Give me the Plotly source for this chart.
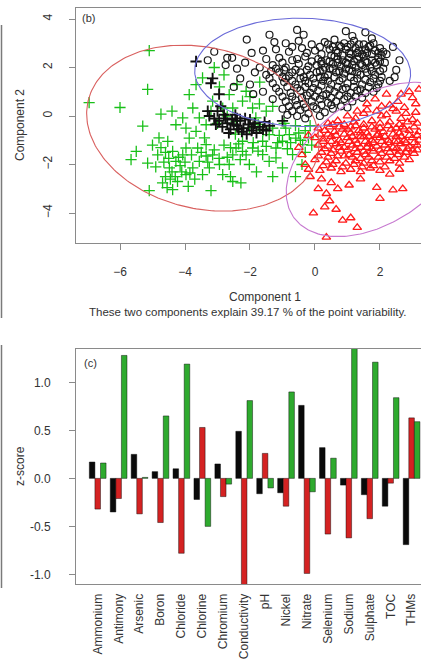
import numpy as np
import plotly.graph_objects as go

W, H = 421, 670

# ---------------- Panel (b): PCA scores ----------------
GREEN_PLUS = [
    (-5.1, 2.7), (-6.95, 0.55), (-6.0, 0.35), (-5.15, 1.1), (-5.3, -0.42), (-4.74, 0.08), (-4.4, 0.2),
    (-5.5, -1.46), (-5.66, -1.8), (-5.15, -1.94), (-5.1, -3.08), (-4.84, -1.6), (-4.74, -1.3), (-4.53, -1.05),
    (-4.38, -1.46), (-4.28, -1.87), (-4.07, -1.6), (-3.97, -1.32), (-4.48, -2.14), (-4.69, -2.76), (-4.38, -3.04),
    (-4.23, -2.7), (-3.97, -2.42), (-3.76, -2.14), (-3.56, -1.87), (-3.61, -1.32), (-3.35, -1.18), (-3.15, -1.6),
    (-2.94, -2.0), (-2.84, -2.42), (-2.64, -2.0), (-2.53, -1.6), (-2.43, -1.32), (-2.23, -1.04), (-2.12, -1.6),
    (-2.02, -2.0), (-2.28, -2.76), (-2.53, -2.7), (-3.2, -3.08), (-3.46, -2.42), (-3.25, -2.14),
    (-3.87, 0.88), (-3.66, 1.29), (-3.46, 1.57), (-3.76, 0.33), (-3.56, -0.08), (-4.07, -0.08), (-4.28, -0.36),
    (-3.97, -0.5), (-3.87, -0.91), (-3.66, -0.63), (-3.35, -0.36), (-3.15, 0.61), (-2.94, 1.2), (-2.84, 0.33),
    (-2.64, 0.88), (-2.53, 0.33), (-2.23, 0.61), (-2.12, 1.02), (-1.92, 0.33), (-1.71, 0.5), (-2.43, -0.22),
    (-1.82, -0.08), (-2.02, -0.5), (-1.61, -1.04), (-1.41, -0.77), (-1.2, -1.32), (-1.0, -1.04), (-0.79, -0.77),
    (-0.59, -0.91), (-1.2, -1.73), (-1.41, -1.87), (-1.0, -2.14), (-0.69, -1.59), (-0.38, -1.18), (-1.61, -1.59),
    (-1.92, -1.32), (-2.23, -1.46), (-4.6, -1.5), (-4.2, -1.7), (-4.0, -1.9), (-4.4, -2.3), (-4.6, -2.5),
    (-4.3, -2.5), (-3.8, -1.6), (-3.5, -1.5), (-3.3, -1.9), (-3.1, -1.4), (-2.8, -1.2), (-2.7, -1.7),
    (-2.3, -1.8), (-2.6, -1.3), (-1.9, -1.1), (-1.6, -0.6), (-1.3, -0.5), (-1.1, -0.8), (-0.9, -0.5),
    (-0.6, -0.4), (-0.5, -0.7), (-0.3, -0.6), (-0.2, -0.9), (-1.5, 0.2), (-1.3, 0.4), (-2.0, 0.8),
    (-2.7, 0.0), (-3.0, -0.3), (-3.2, 0.2), (-4.8, -0.9), (-5.0, -1.2), (-4.9, -2.1), (-3.9, -2.9),
    (-2.6, -2.5), (-1.8, -2.3), (-1.3, -2.5), (-0.4, -2.0), (-0.6, -2.5), (-0.3, -1.5), (-0.1, -1.2),
    (-1.7, 1.4), (-2.4, 1.3), (-3.1, 2.0), (-2.8, 1.7), (-4.5, -1.75), (-4.15, -2.05), (-3.7, -2.6),
    (-4.55, -2.95), (-3.4, -0.9), (-2.45, -0.75), (-1.75, -0.35), (-0.85, -1.35), (-0.45, -1.0),
    (-4.65, -1.9), (-4.45, -2.6), (-4.1, -2.3), (-3.85, -2.35), (-3.35, -1.65), (-2.95, -1.75), (-2.35, -1.15),
    (-1.75, -1.45), (-1.15, -1.1), (-0.75, -1.1), (-1.5, -1.25), (-0.95, -0.3), (-0.15, -0.4),
]
BLACK_PLUS = [
    (-3.25, 0.0), (-3.1, -0.1), (-2.95, -0.2), (-2.8, 0.05), (-2.7, -0.3), (-2.55, -0.15), (-2.4, -0.4),
    (-2.3, -0.2), (-2.2, -0.5), (-2.05, -0.35), (-1.95, -0.6), (-1.85, -0.3), (-1.7, -0.45), (-1.55, -0.25),
    (-2.6, -0.55), (-3.0, 0.2), (-2.45, 0.05), (-1.4, -0.4), (-2.15, -0.1), (-2.85, -0.45), (-3.3, 0.2),
    (-3.15, 1.55), (-3.2, 1.35), (-2.95, 0.9), (-3.66, 2.25), (-2.9, 0.4), (-1.0, -0.2), (-2.25, -0.65),
    (-1.8, -0.7), (-2.5, -0.35), (-2.0, -0.15), (-2.35, -0.55), (-1.6, -0.55), (-2.75, -0.1),
    (-3.05, -0.35), (-2.65, -0.7), (-2.1, -0.75), (-1.9, -0.45), (-2.4, -0.1), (-1.5, -0.6),
]
BLACK_CIRCLE = [
    (-3.3, 2.3), (-3.1, 2.65), (-2.75, 2.1), (-2.55, 2.4), (-2.4, 1.95), (-2.3, 1.55), (-2.15, 2.2),
    (-2.1, 3.15), (-1.95, 2.6), (-1.85, 1.8), (-1.4, 3.35), (-1.25, 3.05), (-0.55, 3.55), (-0.35, 3.35),
    (0.95, 3.5), (1.15, 3.3), (1.55, 3.45), (1.75, 3.2), (2.4, 2.85), (2.5, 1.9), (2.3, 1.45), (2.6, 2.3),
    (2.2, 2.55), (2.45, 1.6),
    (-0.9, 3.0), (-0.5, 3.1), (-0.1, 2.95), (0.3, 3.05), (0.6, 3.15), (0.9, 3.0), (1.2, 3.1), (1.5, 2.95),
    (1.8, 3.0), (2.0, 2.8),
    (-1.6, 2.7), (-1.2, 2.75), (-0.8, 2.65), (-0.4, 2.8), (0.0, 2.7), (0.2, 2.55), (0.45, 2.75), (0.7, 2.6),
    (0.95, 2.75), (1.1, 2.55), (1.35, 2.7), (1.6, 2.6), (1.85, 2.7), (2.05, 2.5),
    (-1.5, 2.35), (-1.1, 2.4), (-0.7, 2.3), (-0.3, 2.45), (0.1, 2.35), (0.35, 2.3), (0.6, 2.45), (0.85, 2.3),
    (1.05, 2.4), (1.3, 2.35), (1.5, 2.45), (1.75, 2.3), (1.95, 2.4), (2.15, 2.2),
    (-1.7, 2.0), (-1.3, 2.1), (-0.9, 2.0), (-0.5, 2.15), (-0.2, 2.05), (0.05, 2.1), (0.3, 2.0), (0.55, 2.15),
    (0.8, 2.05), (1.0, 2.15), (1.25, 2.0), (1.45, 2.1), (1.7, 2.0), (1.9, 2.1), (2.1, 1.95),
    (-1.5, 1.7), (-1.1, 1.8), (-0.8, 1.65), (-0.45, 1.8), (-0.15, 1.7), (0.15, 1.85), (0.4, 1.7), (0.65, 1.8),
    (0.9, 1.75), (1.15, 1.85), (1.4, 1.7), (1.6, 1.8), (1.85, 1.7), (2.05, 1.6),
    (-1.3, 1.35), (-0.95, 1.4), (-0.6, 1.3), (-0.3, 1.45), (0.0, 1.35), (0.25, 1.45), (0.5, 1.3), (0.75, 1.45),
    (1.0, 1.35), (1.2, 1.45), (1.45, 1.3), (1.7, 1.4), (1.95, 1.3),
    (-1.1, 1.0), (-0.75, 0.95), (-0.45, 1.05), (-0.15, 0.95), (0.1, 1.05), (0.35, 0.9), (0.6, 1.0), (0.85, 1.1),
    (1.1, 0.95), (1.3, 1.05), (1.55, 0.95), (1.8, 1.0),
    (-0.9, 0.6), (-0.6, 0.65), (-0.35, 0.5), (-0.1, 0.6), (0.15, 0.7), (0.4, 0.55), (0.65, 0.6), (0.9, 0.7),
    (1.15, 0.6), (-0.7, 0.2), (-0.45, 0.25), (-0.2, 0.1), (0.05, 0.3), (0.3, 0.15), (0.55, 0.3),
    (-2.0, 1.3), (-1.6, 1.0), (-1.3, 0.7), (-1.0, 0.3), (-1.9, 0.9), (-2.5, 1.2), (-2.7, 2.4),
    (0.75, 2.9), (1.0, 2.85), (1.25, 2.8), (1.45, 2.55), (0.85, 2.5), (1.2, 2.25), (0.5, 2.5), (0.2, 2.25),
    (1.6, 2.2), (1.75, 2.55), (-0.9, 1.55), (-0.6, 1.9), (-0.35, 1.6), (-1.2, 1.95), (-0.05, 1.55), (0.3, 1.6),
    (1.35, 2.95), (1.65, 2.85), (0.55, 2.85), (1.05, 2.6), (0.7, 2.2), (1.4, 2.15), (0.95, 1.95), (0.45, 1.95),
    (-0.7, 2.85), (-0.25, 2.6), (0.15, 2.85), (0.4, 2.95), (0.65, 2.7), (0.8, 2.85), (1.1, 2.95), (1.3, 2.6),
    (1.55, 2.75), (1.7, 2.9), (1.95, 2.6), (2.1, 2.65),
    (-1.0, 2.2), (-0.55, 2.35), (-0.1, 2.25), (0.2, 2.15), (0.45, 2.25), (0.7, 2.35), (0.95, 2.2), (1.15, 2.1),
    (1.35, 2.45), (1.55, 2.25), (1.85, 2.2), (2.0, 2.25),
    (-1.35, 1.85), (-0.95, 1.9), (-0.7, 1.8), (-0.25, 1.9), (0.05, 1.8), (0.25, 1.9), (0.55, 1.95), (0.75, 1.85),
    (1.05, 1.9), (1.3, 1.8), (1.55, 1.95), (1.75, 1.85), (2.0, 1.85),
    (-1.4, 1.55), (-1.0, 1.6), (-0.7, 1.45), (-0.45, 1.55), (-0.2, 1.35), (0.15, 1.6), (0.4, 1.45), (0.6, 1.6),
    (0.85, 1.55), (1.1, 1.6), (1.3, 1.55), (1.55, 1.5), (1.8, 1.55), (2.0, 1.45),
    (-1.2, 1.15), (-0.85, 1.2), (-0.55, 1.15), (-0.3, 1.2), (-0.05, 1.15), (0.2, 1.25), (0.45, 1.1), (0.7, 1.2),
    (0.95, 1.15), (1.2, 1.2), (1.4, 1.1), (1.65, 1.2), (1.9, 1.15),
    (-1.0, 0.8), (-0.7, 0.8), (-0.4, 0.75), (-0.25, 0.85), (0.0, 0.8), (0.25, 0.85), (0.5, 0.75), (0.75, 0.85),
    (1.0, 0.8), (1.25, 0.8), (1.45, 0.75),
    (-0.8, 0.4), (-0.55, 0.45), (-0.3, 0.35), (-0.05, 0.4), (0.2, 0.45), (0.5, 0.45), (0.8, 0.4), (1.0, 0.35),
    (-0.55, 0.0), (-0.3, -0.1), (0.15, 0.0), (-0.85, 0.05),
]
RED_TRIANGLE = [
    (1.6, 0.5), (1.85, 0.7), (2.2, 0.9), (2.65, 0.9), (2.9, 1.0), (2.3, 0.45), (2.55, 0.6), (3.1, 0.5),
    (1.3, 0.2), (1.0, 0.0), (0.7, -0.2), (0.4, -0.3), (0.1, -0.5), (-0.2, -0.8), (3.2, 1.1),
    (1.5, 0.1), (1.9, 0.2), (2.2, 0.05), (2.5, 0.2), (2.8, 0.1), (3.1, 0.15),
    (0.9, -0.35), (1.2, -0.25), (1.5, -0.35), (1.75, -0.2), (2.0, -0.3), (2.3, -0.25), (2.6, -0.35),
    (2.85, -0.25), (3.15, -0.3),
    (0.3, -0.6), (0.6, -0.65), (0.85, -0.55), (1.1, -0.7), (1.35, -0.6), (1.6, -0.7), (1.85, -0.55),
    (2.1, -0.65), (2.35, -0.55), (2.6, -0.7), (2.9, -0.6), (3.2, -0.65),
    (0.0, -0.9), (0.25, -0.95), (0.5, -0.85), (0.75, -1.0), (1.0, -0.9), (1.25, -1.0), (1.5, -0.85),
    (1.75, -1.0), (2.0, -0.9), (2.25, -1.0), (2.5, -0.85), (2.75, -1.0), (3.0, -0.9), (3.2, -1.0),
    (0.1, -1.2), (0.4, -1.25), (0.65, -1.15), (0.9, -1.3), (1.15, -1.2), (1.4, -1.3), (1.65, -1.15),
    (1.9, -1.25), (2.15, -1.2), (2.4, -1.3), (2.65, -1.15), (2.9, -1.25), (3.15, -1.2),
    (0.2, -1.5), (0.5, -1.55), (0.8, -1.45), (1.05, -1.6), (1.3, -1.5), (1.55, -1.6), (1.8, -1.45),
    (2.05, -1.55), (2.3, -1.5), (2.55, -1.6), (2.8, -1.5), (3.05, -1.55),
    (0.0, -1.8), (0.35, -1.9), (0.65, -1.85), (0.95, -1.95), (1.25, -1.85), (1.5, -1.95), (1.75, -1.85),
    (2.0, -1.9), (2.3, -1.85), (2.6, -1.95), (2.9, -1.8),
    (-0.2, -2.2), (0.15, -2.25), (0.5, -2.15), (0.8, -2.3), (1.1, -2.2), (1.4, -2.3), (1.7, -2.15),
    (2.0, -2.25), (2.3, -2.4), (2.6, -2.2),
    (-0.15, -2.5), (0.2, -2.6), (0.5, -2.75), (0.1, -3.0), (0.35, -3.2), (0.7, -3.0), (1.05, -2.85),
    (1.4, -2.6), (1.9, -2.95), (2.0, -3.4), (2.4, -3.05), (2.7, -3.0), (0.45, -3.5), (0.65, -3.85),
    (0.85, -4.3), (1.1, -4.2), (1.3, -4.6), (0.35, -5.0), (-0.05, -4.0), (0.3, -3.75), (-0.4, -1.6),
    (-0.3, -2.0), (-0.5, -1.3),
    (0.55, -0.35), (1.1, -0.45), (1.4, -0.85), (1.95, -0.75), (2.45, -1.05), (2.7, -0.45), (3.0, -1.4),
    (2.2, -1.7), (1.6, -1.3), (0.9, -1.65), (1.2, -2.0), (2.5, -1.35),
    (0.45, -0.45), (0.75, -0.45), (1.0, -0.55), (1.25, -0.4), (1.5, -0.5), (1.75, -0.45), (2.0, -0.5),
    (2.25, -0.4), (2.5, -0.5), (2.75, -0.55), (3.05, -0.45),
    (0.15, -0.75), (0.4, -0.75), (0.65, -0.8), (0.9, -0.75), (1.15, -0.85), (1.4, -0.7), (1.65, -0.85),
    (1.9, -0.8), (2.15, -0.85), (2.4, -0.75), (2.65, -0.85), (2.9, -0.8), (3.15, -0.8),
    (0.25, -1.05), (0.5, -1.05), (0.8, -1.1), (1.05, -1.05), (1.3, -1.15), (1.55, -1.05), (1.8, -1.1),
    (2.05, -1.05), (2.3, -1.1), (2.55, -1.05), (2.8, -1.1), (3.05, -1.1),
    (0.3, -1.35), (0.55, -1.4), (0.75, -1.3), (1.0, -1.4), (1.25, -1.35), (1.5, -1.45), (1.75, -1.35),
    (2.0, -1.4), (2.25, -1.35), (2.6, -1.45), (2.85, -1.35), (3.15, -1.4),
    (0.1, -1.65), (0.4, -1.7), (0.7, -1.65), (1.15, -1.7), (1.4, -1.75), (1.65, -1.7), (1.95, -1.7),
    (2.45, -1.75), (2.75, -1.7),
    (0.25, -2.05), (0.55, -2.0), (0.85, -2.1), (1.45, -2.1), (1.8, -2.05), (2.15, -2.1),
    (1.6, 0.25), (2.05, 0.4), (2.4, 0.3), (2.75, 0.35), (3.0, 0.75), (1.25, -0.1), (2.05, 0.0), (2.65, -0.1),
    (3.0, -0.15),
]

# Spanning ellipses: centre and two conjugate semi-axis vectors (data units)
ELL_CX = [-3.45, -0.38, 1.90]
ELL_CY = [-0.50, 1.80, -1.79]
ELL_UX = [3.53, 3.32, 2.60]
ELL_UY = [-1.13, -0.15, 2.30]
ELL_VX = [-0.575, -0.12, 1.00]
ELL_VY = [-3.23, -2.23, -2.20]
ELL_COLORS = ["#d9605f", "#6a6ad8", "#c77ad0"]

# ---------------- Panel (c): z-scores ----------------
CATEGORIES = ["Ammonium", "Antimony", "Arsenic", "Boron", "Chloride", "Chlorine", "Chromium",
              "Conductivity", "pH", "Nickel", "Nitrate", "Selenium", "Sodium", "Sulphate", "TOC", "THMs"]
Z_BLACK = [0.17, -0.35, 0.25, 0.07, 0.10, -0.22, 0.15, 0.49, -0.16, -0.15, 0.76, 0.32, -0.07, -0.17, -0.29, -0.69]
Z_RED = [-0.32, -0.21, -0.37, -0.46, -0.78, 0.53, -0.19, -1.15, 0.26, -0.29, -0.99, -0.58, -0.62, -0.42, -0.05, 0.63]
Z_GREEN = [0.16, 1.28, 0.01, 0.65, 1.19, -0.50, -0.06, 0.81, -0.10, 0.90, -0.14, 0.21, 1.40, 1.21, 0.84, 0.59]

fig = go.Figure()

def unzip(pts):
    return [p[0] for p in pts], [p[1] for p in pts]

gx, gy = unzip(GREEN_PLUS)
fig.add_trace(go.Scatter(x=gx, y=gy, mode="markers", showlegend=False,
                         marker=dict(symbol="cross-thin-open", size=8, color="#19c019",
                                     line=dict(color="#19c019", width=1.3))))
cxs, cys = unzip(BLACK_CIRCLE)
fig.add_trace(go.Scatter(x=cxs, y=cys, mode="markers", showlegend=False,
                         marker=dict(symbol="circle-open", size=7, color="#1a1a1a",
                                     line=dict(color="#1a1a1a", width=1.2))))
bx, by = unzip(BLACK_PLUS)
fig.add_trace(go.Scatter(x=bx, y=by, mode="markers", showlegend=False,
                         marker=dict(symbol="cross-thin-open", size=8, color="#111111",
                                     line=dict(color="#111111", width=1.9))))
rx, ry = unzip(RED_TRIANGLE)
fig.add_trace(go.Scatter(x=rx, y=ry, mode="markers", showlegend=False,
                         marker=dict(symbol="triangle-up-open", size=7.5, color="#ff1a1a",
                                     line=dict(color="#ff1a1a", width=1.3))))

t = np.linspace(0, 2 * np.pi, 241)
for cx, cy, ux, uy, vx, vy, col in zip(ELL_CX, ELL_CY, ELL_UX, ELL_UY, ELL_VX, ELL_VY, ELL_COLORS):
    fig.add_trace(go.Scatter(x=cx + ux * np.cos(t) + vx * np.sin(t),
                             y=cy + uy * np.cos(t) + vy * np.sin(t),
                             mode="lines", line=dict(color=col, width=1.1),
                             hoverinfo="skip", showlegend=False, xaxis="x", yaxis="y"))

# bars
for vals, col in [(Z_BLACK, "#0a0a0a"), (Z_RED, "#d42222"), (Z_GREEN, "#2eaa2e")]:
    fig.add_trace(go.Bar(x=CATEGORIES, y=vals,
                         marker=dict(color=col, line=dict(color="rgba(0,0,0,0.55)", width=0.8)),
                         xaxis="x2", yaxis="y2", showlegend=False))

FONT = "Liberation Sans, Arial, sans-serif"
AX = dict(showgrid=False, zeroline=False, showline=True, linecolor="#8a8a8a", linewidth=1,
          ticks="outside", ticklen=6, tickcolor="#8a8a8a", tickfont=dict(family=FONT, size=12, color="#333333"))

def py(p):
    return 1 - p / H

fig.update_layout(
    width=W, height=H, margin=dict(l=0, r=0, t=0, b=0),
    paper_bgcolor="white", plot_bgcolor="white",
    barmode="group", bargap=0.2, bargroupgap=0,
    font=dict(family=FONT, color="#333333"),
    xaxis=dict(AX, domain=[76 / W, 1], range=[-7.354, 3.262], tickvals=[-6, -4, -2, 0, 2],
               mirror=True, ticklabelstandoff=12, anchor="y"),
    yaxis=dict(AX, domain=[py(243), py(8)], range=[-5.237, 4.454], tickvals=[-4, -2, 0, 2, 4],
               tickangle=-90, ticklabelstandoff=12, anchor="x"),
    xaxis2=dict(AX, domain=[76 / W, 1], range=[-1.037, 15.45], mirror=True, ticks="", ticklen=0,
                tickangle=-90, ticklabelstandoff=4, anchor="y2"),
    yaxis2=dict(AX, domain=[py(584), py(349)], range=[-1.10, 1.347], tickvals=[-1.0, -0.5, 0.0, 0.5, 1.0],
                ticktext=["-1.0", "-0.5", "0.0", "0.5", "1.0"], ticklabelstandoff=16, anchor="x2"),
)

ann = [
    dict(text="(b)", x=80 / W, y=py(18), xanchor="left", yanchor="middle", font=dict(size=11)),
    dict(text="(c)", x=82 / W, y=py(363), xanchor="left", yanchor="middle", font=dict(size=11)),
    dict(text="Component 1", x=265 / W, y=py(297), xanchor="center", yanchor="middle", font=dict(size=12)),
    dict(text="These two components explain 39.17 % of the point variability.", x=248 / W, y=py(312),
         xanchor="center", yanchor="middle", font=dict(size=11.5)),
    dict(text="Component 2", x=20 / W, y=py(125), textangle=-90, xanchor="center", yanchor="middle",
         font=dict(size=12)),
    dict(text="z-score", x=20 / W, y=py(466), textangle=-90, xanchor="center", yanchor="middle",
         font=dict(size=12)),
]
for a in ann:
    a.update(xref="paper", yref="paper", showarrow=False)
    a["font"] = dict(family=FONT, color="#333333", **a["font"])
fig.update_layout(annotations=ann)

# edges of the neighbouring panel (a), cropped at left
fig.add_shape(type="line", xref="paper", yref="paper", x0=1.5 / W, x1=1.5 / W, y0=py(318), y1=py(25),
              line=dict(color="#7a7a7a", width=1.5))
fig.add_shape(type="line", xref="paper", yref="paper", x0=1.5 / W, x1=1.5 / W, y0=py(588), y1=py(345),
              line=dict(color="#7a7a7a", width=1.5))

fig.write_html("out.html", config={"displayModeBar": False},
               post_script="document.body.style.margin='0px';document.body.style.overflow='hidden';")
